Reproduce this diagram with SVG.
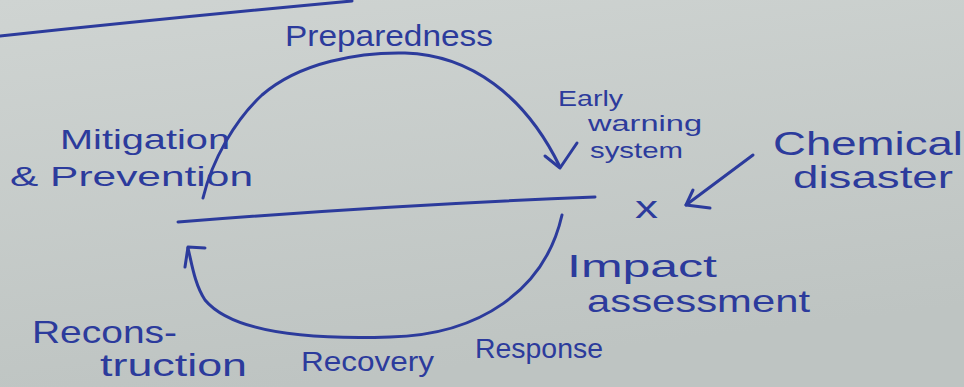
<svg xmlns="http://www.w3.org/2000/svg" width="964" height="387" viewBox="0 0 964 387">
  <defs>
    <linearGradient id="bg" x1="0" y1="0" x2="0.3" y2="1">
      <stop offset="0" stop-color="#cfd4d2"/>
      <stop offset="1" stop-color="#bec4c2"/>
    </linearGradient>
    <style>
      .ink { fill: none; stroke: #2c3b9c; stroke-width: 3; stroke-linecap: round; stroke-linejoin: round; }
      .lbl { fill: #2c3b9c; font-family: "Liberation Sans", Arial, sans-serif; }
    </style>
  </defs>
  <rect width="964" height="387" fill="url(#bg)"/>

  <g id="connectors">
    <!-- top margin line -->
    <path class="ink" d="M0,36 Q180,17 352,1"/>
    <!-- upper cycle arc with arrow -->
    <path class="ink" d="M203,198 C212,160 235,120 262,95 C300,62 360,52 405,53 C470,55 525,95 560,167"/>
    <path class="ink" d="M545,156 L560,168 L577,143"/>
    <!-- disaster timeline line -->
    <path class="ink" d="M178,222 Q390,205 595,197"/>
    <!-- lower cycle arc with arrow -->
    <path class="ink" d="M562,215 C545,290 480,335 390,337 C300,340 230,330 205,300 C195,285 192,265 188,248"/>
    <path class="ink" d="M185,267 L188,247 L205,248"/>
    <!-- chemical disaster pointer -->
    <path class="ink" d="M753,155 L686,205"/>
    <path class="ink" d="M693,190 L686,205 L710,208"/>
  </g>

  <g id="preparedness"><text class="lbl" x="285" y="46" font-size="30" textLength="208" lengthAdjust="spacingAndGlyphs">Preparedness</text></g>
  <g id="mitigation">
    <text class="lbl" x="60" y="149" font-size="28" textLength="170" lengthAdjust="spacingAndGlyphs">Mitigation</text>
    <text class="lbl" x="10" y="186" font-size="28" textLength="243" lengthAdjust="spacingAndGlyphs">&amp; Prevention</text>
  </g>
  <g id="early-warning">
    <text class="lbl" x="558" y="106" font-size="22" textLength="65" lengthAdjust="spacingAndGlyphs">Early</text>
    <text class="lbl" x="588" y="131" font-size="22" textLength="114" lengthAdjust="spacingAndGlyphs">warning</text>
    <text class="lbl" x="590" y="158" font-size="22" textLength="93" lengthAdjust="spacingAndGlyphs">system</text>
  </g>
  <g id="disaster-point"><text class="lbl" x="635" y="218" font-size="32" textLength="23" lengthAdjust="spacingAndGlyphs">x</text></g>
  <g id="chemical-disaster">
    <text class="lbl" x="773" y="155" font-size="34" textLength="190" lengthAdjust="spacingAndGlyphs">Chemical</text>
    <text class="lbl" x="793" y="188" font-size="32" textLength="160" lengthAdjust="spacingAndGlyphs">disaster</text>
  </g>
  <g id="impact-assessment">
    <text class="lbl" x="567" y="277" font-size="32" textLength="150" lengthAdjust="spacingAndGlyphs">Impact</text>
    <text class="lbl" x="587" y="312" font-size="32" textLength="223" lengthAdjust="spacingAndGlyphs">assessment</text>
  </g>
  <g id="reconstruction">
    <text class="lbl" x="32" y="343" font-size="32" textLength="145" lengthAdjust="spacingAndGlyphs">Recons-</text>
    <text class="lbl" x="100" y="376" font-size="32" textLength="147" lengthAdjust="spacingAndGlyphs">truction</text>
  </g>
  <g id="recovery"><text class="lbl" x="301" y="371" font-size="28" textLength="133" lengthAdjust="spacingAndGlyphs">Recovery</text></g>
  <g id="response"><text class="lbl" x="475" y="358" font-size="28" textLength="128" lengthAdjust="spacingAndGlyphs">Response</text></g>
</svg>
